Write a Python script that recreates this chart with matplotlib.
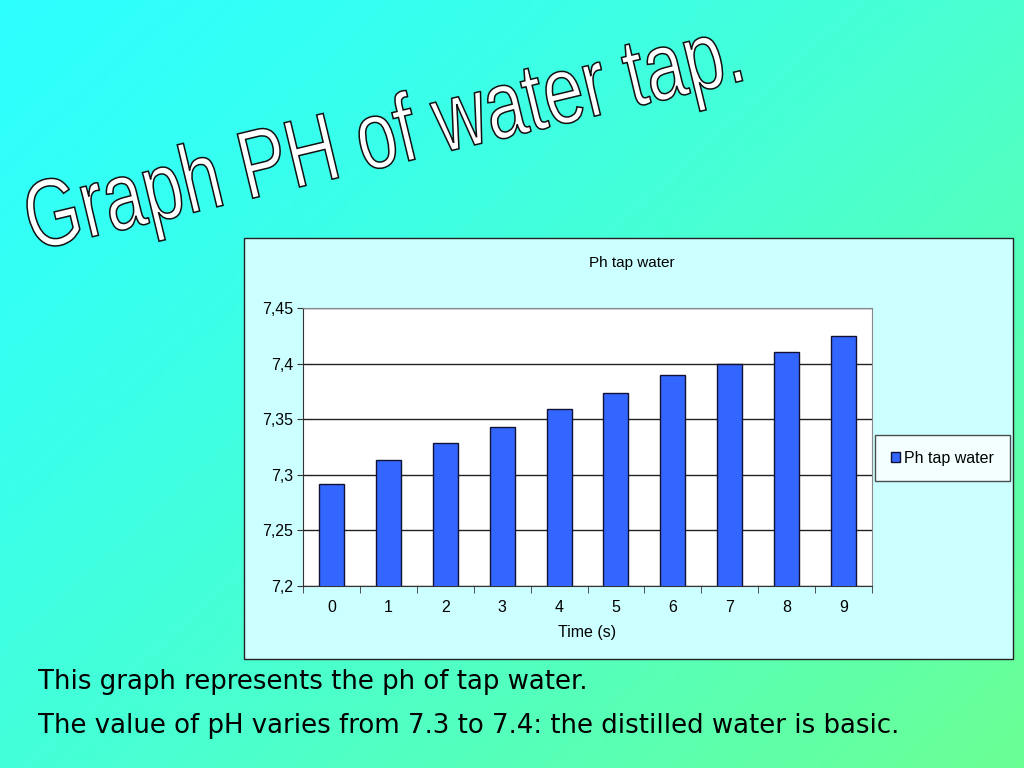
import numpy as np
import matplotlib
matplotlib.use("Agg")
import matplotlib.pyplot as plt
from matplotlib.patches import Rectangle, PathPatch
from matplotlib.textpath import TextPath
from matplotlib.font_manager import FontProperties, fontManager
from matplotlib.transforms import Affine2D
from matplotlib.ticker import FuncFormatter, FixedLocator

times = [0, 1, 2, 3, 4, 5, 6, 7, 8, 9]
ph_values = [7.292, 7.313, 7.329, 7.343, 7.359, 7.374, 7.390, 7.400, 7.410, 7.425]
y_ticks = [7.2, 7.25, 7.3, 7.35, 7.4, 7.45]
series_name = "Ph tap water"
x_label = "Time (s)"
slide_title = "Graph PH of water tap."
line1 = "This graph represents the ph of tap water."
line2 = "The value of pH varies from 7.3 to 7.4: the distilled water is basic."

W, H = 1024, 768
fig = plt.figure(figsize=(10.24, 7.68), dpi=100)

names = {f.name for f in fontManager.ttflist}
if "Liberation Sans Narrow" in names:
    cfam, csize = "Liberation Sans Narrow", 13.5
else:
    cfam, csize = "Liberation Sans", 11.5

# gradient background
bg = fig.add_axes([0, 0, 1, 1], zorder=-10)
yy, xx = np.mgrid[0:1:200j, 0:1:200j]
t = np.clip(0.55 * xx + 0.45 * yy, 0, 1) ** 1.3
c1 = np.array([0.18, 1.0, 1.0])
c2 = np.array([0.42, 1.0, 0.58])
img = c1[None, None, :] * (1 - t[..., None]) + c2[None, None, :] * t[..., None]
bg.imshow(img, extent=[0, 1, 0, 1], origin="upper", aspect="auto")
bg.set_xlim(0, 1); bg.set_ylim(0, 1)
bg.axis("off")

def fx(px):
    return px / W
def fy(py):
    return 1 - py / H

# chart frame
frame = Rectangle((fx(244), fy(659)), fx(1013) - fx(244), fy(238) - fy(659),
                  transform=fig.transFigure, facecolor="#ccffff",
                  edgecolor="#222222", linewidth=1.0, zorder=-5)
fig.patches.append(frame)

ax = fig.add_axes([fx(303), fy(586), fx(872) - fx(303), fy(308) - fy(586)])
ax.set_facecolor("white")
ax.bar(times, ph_values, width=0.44, color="#3366ff", edgecolor="#111133",
       linewidth=1.0, zorder=3, label=series_name)
ax.set_xlim(-0.5, 9.5)
ax.set_ylim(7.2, 7.45)
ax.yaxis.set_major_locator(FixedLocator(y_ticks))
ax.yaxis.set_major_formatter(FuncFormatter(lambda v, p: ("%g" % round(v, 2)).replace(".", ",")))
ax.grid(axis="y", color="#222222", linewidth=1.0, zorder=1)
ax.set_xticks(times)
ax.set_xticks(np.arange(-0.5, 10, 1), minor=True)
ax.tick_params(axis="x", which="major", length=0, pad=10, labelsize=csize)
ax.tick_params(axis="x", which="minor", length=5, direction="out", color="#333333")
ax.tick_params(axis="y", length=4, direction="out", labelsize=csize, color="#333333", pad=3)
for lab in ax.get_xticklabels() + ax.get_yticklabels():
    lab.set_fontfamily(cfam)
for s in ["top", "right"]:
    ax.spines[s].set_color("#888888")
for s in ["left", "bottom"]:
    ax.spines[s].set_color("#333333")
ax.set_xlabel(x_label, fontsize=csize, fontfamily=cfam, labelpad=7)

fig.text(fx(632), fy(263), series_name, ha="center", va="center", fontsize=csize - 0.5,
         fontfamily=cfam)

leg = fig.legend(loc="center", bbox_to_anchor=(fx(942.5), fy(458)), frameon=True,
                 fancybox=False, edgecolor="#222222",
                 prop={"family": cfam, "size": csize},
                 handlelength=0.6, handleheight=0.6, handletextpad=0.25,
                 borderpad=1.0, borderaxespad=0)
leg.get_frame().set_linewidth(1.0)

# big rotated, condensed title (outlined white text)
tp = TextPath((0, 0), slide_title, size=96, prop=FontProperties(family="Liberation Sans"))
tr = Affine2D().scale(0.75, 1.0).rotate_deg(13.5).translate(33, H - 251)
title_patch = PathPatch(tp, transform=tr, facecolor="white", edgecolor="#111111",
                        linewidth=1.1, zorder=5)
fig.patches.append(title_patch)

fig.text(fx(38), fy(682), line1, ha="left", va="center", fontsize=18.7,
         fontfamily="DejaVu Sans")
fig.text(fx(38), fy(726), line2, ha="left", va="center", fontsize=18.7,
         fontfamily="DejaVu Sans")

fig.savefig("out.png", dpi=100)
